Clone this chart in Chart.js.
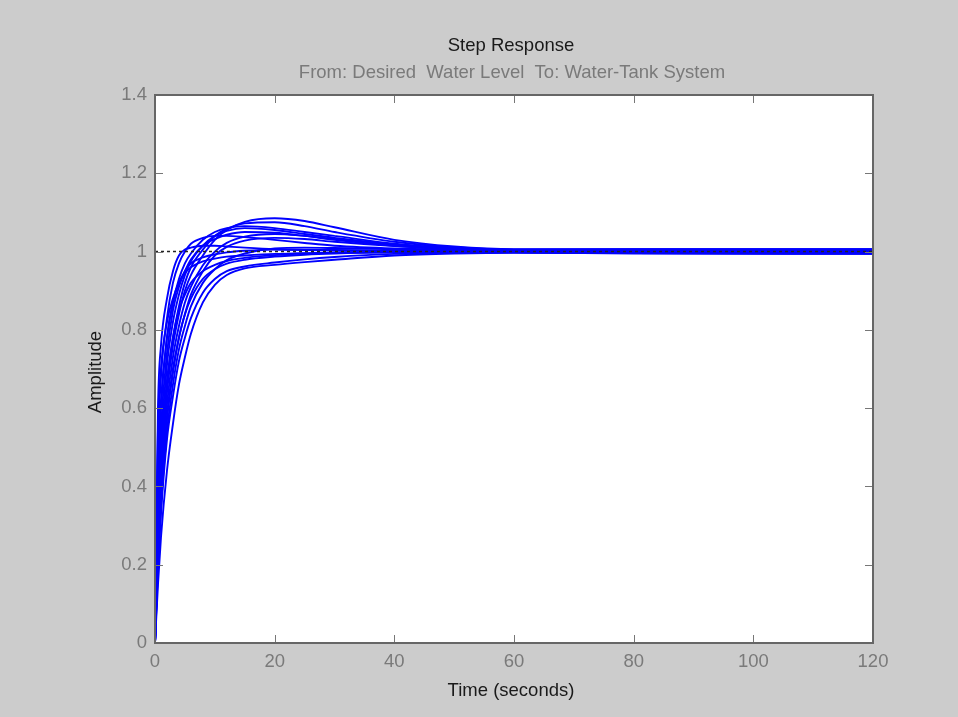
<!DOCTYPE html>
<html>
<head>
<meta charset="utf-8">
<title>Step Response</title>
<script src="https://cdn.jsdelivr.net/npm/chart.js@4.4.0/dist/chart.umd.min.js"></script>
<style>
  html, body { margin: 0; padding: 0; background: #cccccc; }
  canvas { display: block; }
</style>
</head>
<body>
<canvas id="stepChart" width="958" height="717"></canvas>
<script>
// --- data ---
const stepTimes = [0, 0.5, 1, 2, 3, 4, 5, 6, 8, 10, 12, 15, 20, 25, 30, 40, 50, 60, 80, 120];

const respA = [0, 0.60, 0.76, 0.88, 0.95, 0.99, 1.005, 1.01, 1.015, 1.015, 1.013, 1.010, 1.006, 1.004, 1.003, 1.002, 1.001, 1.000, 1.002, 1.002];
const respB = [0, 0.50, 0.68, 0.83, 0.92, 0.97, 1.000, 1.02, 1.035, 1.040, 1.040, 1.037, 1.030, 1.022, 1.015, 1.008, 1.005, 1.003, 1.004, 1.004];
const respC = [0, 0.55, 0.70, 0.82, 0.88, 0.92, 0.945, 0.96, 0.975, 0.982, 0.987, 0.990, 0.994, 0.996, 0.998, 0.999, 0.999, 0.998, 0.996, 0.995];
const respD = [0, 0.40, 0.60, 0.78, 0.87, 0.93, 0.970, 0.995, 1.030, 1.050, 1.060, 1.065, 1.060, 1.050, 1.040, 1.020, 1.009, 1.005, 1.006, 1.006];
const respE = [0, 0.26, 0.44, 0.64, 0.76, 0.84, 0.900, 0.94, 0.990, 1.030, 1.055, 1.076, 1.085, 1.078, 1.062, 1.030, 1.013, 1.006, 1.006, 1.006];
const respF = [0, 0.28, 0.46, 0.66, 0.78, 0.86, 0.920, 0.96, 1.005, 1.040, 1.058, 1.072, 1.075, 1.065, 1.050, 1.025, 1.011, 1.005, 1.005, 1.005];
const respG = [0, 0.35, 0.55, 0.74, 0.85, 0.91, 0.950, 0.98, 1.015, 1.032, 1.043, 1.050, 1.048, 1.040, 1.030, 1.015, 1.006, 1.002, 1.001, 1.001];
const respH = [0, 0.25, 0.42, 0.61, 0.73, 0.81, 0.870, 0.91, 0.965, 1.000, 1.022, 1.038, 1.045, 1.040, 1.032, 1.018, 1.008, 1.003, 1.002, 1.002];
const respI = [0, 0.22, 0.38, 0.57, 0.69, 0.78, 0.840, 0.89, 0.950, 0.990, 1.012, 1.028, 1.035, 1.032, 1.025, 1.014, 1.006, 1.001, 0.999, 0.998];
const respJ = [0, 0.20, 0.35, 0.54, 0.66, 0.75, 0.810, 0.86, 0.920, 0.955, 0.978, 0.995, 1.008, 1.010, 1.009, 1.006, 1.003, 1.000, 0.998, 0.997];
const respK = [0, 0.30, 0.48, 0.67, 0.78, 0.85, 0.890, 0.92, 0.950, 0.966, 0.976, 0.984, 0.991, 0.995, 0.997, 0.999, 1.000, 0.999, 0.997, 0.996];
const respL = [0, 0.19, 0.33, 0.52, 0.63, 0.72, 0.780, 0.83, 0.895, 0.930, 0.950, 0.962, 0.972, 0.980, 0.986, 0.994, 0.997, 0.998, 0.996, 0.995];
const respM = [0, 0.15, 0.27, 0.44, 0.56, 0.66, 0.730, 0.79, 0.870, 0.915, 0.940, 0.957, 0.966, 0.973, 0.979, 0.990, 0.995, 0.997, 0.995, 0.994];
const respN = [0, 0.22, 0.38, 0.58, 0.70, 0.78, 0.840, 0.88, 0.930, 0.955, 0.969, 0.979, 0.987, 0.992, 0.995, 0.998, 0.999, 0.999, 0.997, 0.996];
const respO = [0, 0.45, 0.62, 0.78, 0.87, 0.92, 0.950, 0.97, 0.985, 0.993, 0.998, 1.002, 1.005, 1.005, 1.004, 1.002, 1.001, 1.000, 1.001, 1.001];
const respP = [0, 0.32, 0.51, 0.71, 0.82, 0.89, 0.940, 0.975, 1.015, 1.040, 1.053, 1.060, 1.055, 1.045, 1.035, 1.018, 1.008, 1.004, 1.004, 1.004];

const responses = [respA, respB, respC, respD, respE, respF, respG, respH,
                   respI, respJ, respK, respL, respM, respN, respO, respP];

const steadyTimes = [0, 120];
const steadyLevel = [1, 1];

const timeTicks = [0, 20, 40, 60, 80, 100, 120];
const ampTicks = [0, 0.2, 0.4, 0.6, 0.8, 1, 1.2, 1.4];

const titleText = 'Step Response';
const subTitleText = 'From: Desired  Water Level  To: Water-Tank System';
const xTitleText = 'Time (seconds)';
const yTitleText = 'Amplitude';

const FONT = "'Liberation Sans', Arial, sans-serif";
const FONT_SIZE = 18.5;

// --- build datasets ---
const datasets = [{
    data: steadyTimes.map((t, i) => ({ x: t, y: steadyLevel[i] })),
    borderColor: '#222222',
    borderWidth: 1.5,
    borderDash: [3, 3],
    pointRadius: 0,
    fill: false
}];

responses.forEach(resp => {
    datasets.push({
        data: stepTimes.map((t, i) => ({ x: t, y: resp[i] })),
        borderColor: '#0000ff',
        borderWidth: 1.9,
        pointRadius: 0,
        fill: false,
        cubicInterpolationMode: 'monotone'
    });
});

// MATLAB style frame: grey figure, white axes, inward ticks, box on
const matlabFrame = {
    id: 'matlabFrame',
    beforeDraw(chart) {
        const { ctx, chartArea: a } = chart;
        ctx.save();
        ctx.fillStyle = '#cccccc';
        ctx.fillRect(0, 0, chart.width, chart.height);
        ctx.fillStyle = '#ffffff';
        ctx.fillRect(a.left, a.top, a.right - a.left, a.bottom - a.top);
        ctx.restore();
    },
    afterDatasetsDraw(chart) {
        const { ctx, chartArea: a, scales } = chart;
        const tickLen = 8;
        ctx.save();
        ctx.strokeStyle = '#777777';
        ctx.lineWidth = 1;
        ctx.beginPath();
        timeTicks.forEach(v => {
            const px = Math.round(scales.x.getPixelForValue(v)) + 0.5;
            ctx.moveTo(px, a.bottom); ctx.lineTo(px, a.bottom - tickLen);
            ctx.moveTo(px, a.top); ctx.lineTo(px, a.top + tickLen);
        });
        ampTicks.forEach(v => {
            const py = Math.round(scales.y.getPixelForValue(v)) + 0.5;
            ctx.moveTo(a.left, py); ctx.lineTo(a.left + tickLen, py);
            ctx.moveTo(a.right, py); ctx.lineTo(a.right - tickLen, py);
        });
        ctx.stroke();
        ctx.strokeStyle = '#666666';
        ctx.lineWidth = 2;
        ctx.strokeRect(a.left, a.top, a.right - a.left, a.bottom - a.top);
        ctx.restore();
    },
    afterDraw(chart) {
        const { ctx, chartArea: a } = chart;
        const cx = (a.left + a.right) / 2;
        ctx.save();
        ctx.textAlign = 'center';
        ctx.textBaseline = 'middle';
        ctx.font = FONT_SIZE + 'px ' + FONT;
        ctx.fillStyle = '#1a1a1a';
        ctx.fillText(titleText, cx - 3, 46);
        ctx.fillStyle = '#7a7a7a';
        ctx.fillText(subTitleText, cx - 2, 73);
        ctx.fillStyle = '#1a1a1a';
        ctx.fillText(xTitleText, cx - 3, 691);
        ctx.translate(96, (a.top + a.bottom) / 2 + 3);
        ctx.rotate(-Math.PI / 2);
        ctx.fillText(yTitleText, 0, 0);
        ctx.restore();
    }
};

new Chart(document.getElementById('stepChart'), {
    type: 'line',
    data: { datasets: datasets },
    plugins: [matlabFrame],
    options: {
        responsive: false,
        animation: false,
        devicePixelRatio: 1,
        layout: { padding: { top: 95, right: 85, left: 0, bottom: 0 } },
        plugins: {
            legend: { display: false },
            tooltip: { enabled: false },
            title: { display: false }
        },
        scales: {
            x: {
                type: 'linear',
                min: 0,
                max: 120,
                afterFit: scale => { scale.height = 74; },
                afterBuildTicks: scale => { scale.ticks = timeTicks.map(v => ({ value: v })); },
                grid: { drawOnChartArea: false, drawTicks: false },
                border: { display: false },
                ticks: {
                    padding: 8,
                    color: '#7a7a7a',
                    font: { family: FONT, size: FONT_SIZE },
                    maxRotation: 0,
                    callback: v => String(v)
                }
            },
            y: {
                type: 'linear',
                min: 0,
                max: 1.4,
                afterFit: scale => { scale.width = 155; },
                afterBuildTicks: scale => { scale.ticks = ampTicks.map(v => ({ value: v })); },
                grid: { drawOnChartArea: false, drawTicks: false },
                border: { display: false },
                ticks: {
                    padding: 8,
                    color: '#7a7a7a',
                    font: { family: FONT, size: FONT_SIZE },
                    callback: v => String(v)
                }
            }
        }
    }
});
</script>
</body>
</html>
